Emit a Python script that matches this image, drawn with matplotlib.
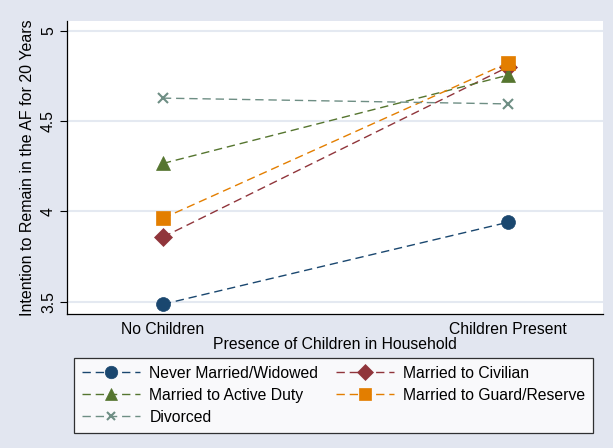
import matplotlib
matplotlib.use("Agg")
import matplotlib.pyplot as plt

plt.rcParams["font.family"] = ["Liberation Sans", "DejaVu Sans"]

categories = ["No Children", "Children Present"]
series_names = [
    "Never Married/Widowed",
    "Married to Civilian",
    "Married to Active Duty",
    "Married to Guard/Reserve",
    "Divorced",
]
never_married = [3.486, 3.94]
married_civilian = [3.858, 4.80]
married_active = [4.266, 4.755]
married_guard = [3.962, 4.823]
divorced = [4.628, 4.596]
y_ticks = [3.5, 4, 4.5, 5]
y_tick_labels = ["3.5", "4", "4.5", "5"]

colors = ["#1a476f", "#90353b", "#55752f", "#e37e00", "#6e8e84"]
markers = ["o", "D", "^", "s", "x"]
sizes = [10, 9, 10, 10, 7]
values = [never_married, married_civilian, married_active, married_guard, divorced]

bg = "#e2e6f0"
fs = 11.3
fig = plt.figure(figsize=(6.13, 4.48), dpi=100, facecolor=bg)
ax = fig.add_axes([0.1093, 0.2991, 0.8744, 0.6539])
ax.set_facecolor("white")

x = list(range(len(categories)))
handles = []
for name, vals, c, m, s in zip(series_names, values, colors, markers, sizes):
    h, = ax.plot(x, vals, color=c, marker=m, markersize=s, linewidth=1.0,
                 dashes=(6, 3.5), markeredgewidth=1.5 if m == "x" else 0.5,
                 markeredgecolor=c, label=name)
    handles.append(h)

ax.set_xlim(-0.278, 1.276)
ax.set_ylim(3.432, 5.055)
ax.set_xticks(x)
ax.set_xticklabels(categories, fontsize=fs)
ax.tick_params(axis="x", length=0, pad=6)
ax.set_yticks(y_ticks)
ax.set_yticklabels(y_tick_labels, fontsize=fs, rotation=90, va="center")
ax.tick_params(axis="y", length=5, width=0.8, pad=3)
ax.grid(axis="y", color="#e4e9f1", linewidth=1.5)
ax.set_axisbelow(True)

for side in ["top", "right"]:
    ax.spines[side].set_visible(False)
for side in ["left", "bottom"]:
    ax.spines[side].set_linewidth(0.9)

ax.set_xlabel("Presence of Children in Household", fontsize=fs, labelpad=0)
ax.set_ylabel("Intention to Remain in the AF for 20 Years", fontsize=11.5, labelpad=4)

# legend in two columns, reading across rows
order = [0, 2, 4, 1, 3]
leg = fig.legend([handles[i] for i in order], [series_names[i] for i in order],
                 ncol=2, loc="upper left", bbox_to_anchor=(74 / 613, 1 - 358 / 448),
                 borderaxespad=0, fontsize=fs, frameon=True, fancybox=False,
                 edgecolor="black", handlelength=3.7, handletextpad=0.6,
                 columnspacing=1.1, labelspacing=0.45, borderpad=0.5,
                 numpoints=1, markerscale=0.9)
leg.get_frame().set_linewidth(0.9)

fig.savefig("out.png", dpi=100, facecolor=bg)
